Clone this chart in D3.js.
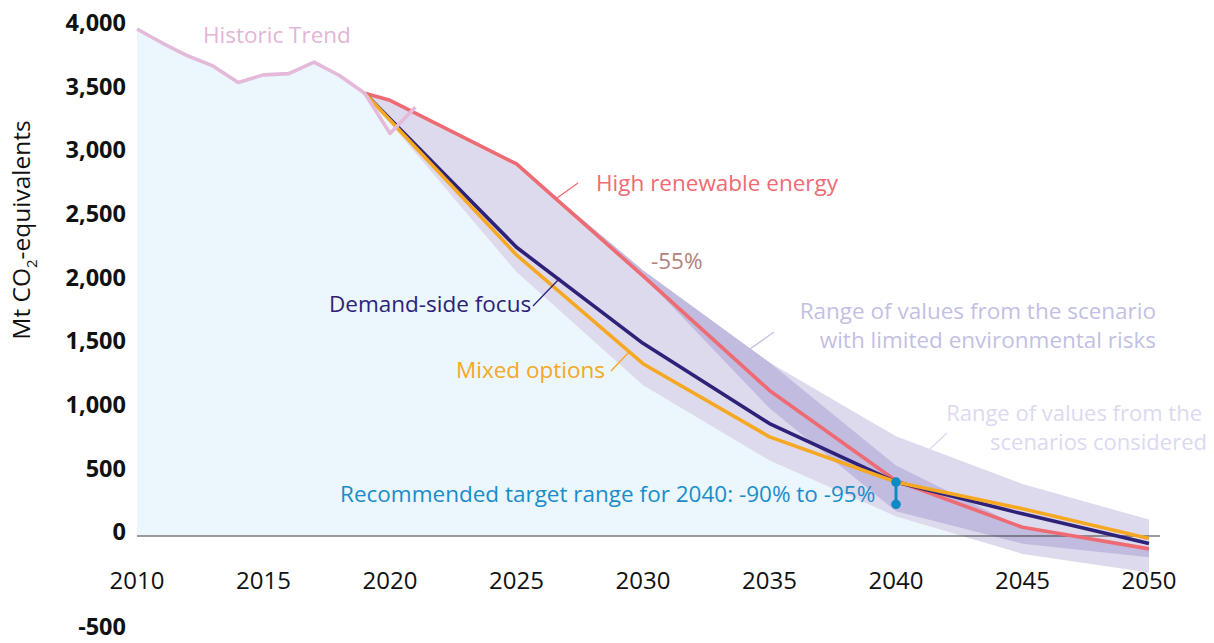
<!DOCTYPE html>
<html>
<head>
<meta charset="utf-8">
<script src="https://cdn.jsdelivr.net/npm/d3@7"></script>
<style>
  html, body { margin: 0; padding: 0; background: #ffffff; }
  svg { display: block; font-family: "Open Sans", "Noto Sans", sans-serif; }
</style>
</head>
<body>
<svg id="chart" width="1214" height="643"></svg>
<script>
// ---------- DATA ----------
const histYears  = [2010, 2011, 2012, 2013, 2014, 2015, 2016, 2017, 2018, 2019, 2020, 2021];
const histValues = [3980, 3870, 3770, 3690, 3560, 3620, 3630, 3720, 3615, 3475, 3160, 3365];

const redYears    = [2019, 2020, 2025, 2030, 2035, 2040, 2045, 2050];
const redValues   = [3475, 3420, 2920, 2040, 1140, 430, 65, -105];   // High renewable energy

const navyYears   = [2019, 2025, 2030, 2035, 2040, 2045, 2050];
const navyValues  = [3475, 2265, 1510, 880, 420, 170, -62];          // Demand-side focus

const orangeYears  = [2019, 2025, 2030, 2035, 2040, 2045, 2050];
const orangeValues = [3475, 2205, 1350, 775, 420, 210, -24];         // Mixed options

// Range of values from the scenarios considered (outer band)
const outerUpperYears  = [2019, 2020, 2025, 2030, 2035, 2040, 2045, 2050];
const outerUpperValues = [3475, 3420, 2920, 2060, 1360, 780, 405, 125];
const outerLowerYears  = [2019, 2025, 2030, 2035, 2040, 2045, 2050];
const outerLowerValues = [3475, 2070, 1180, 590, 150, -145, -290];

// Range of values from the scenario with limited environmental risks (inner band)
const innerYears       = [2025, 2030, 2035, 2040, 2045, 2050];
const innerUpperValues = [2920, 2085, 1360, 550, 60, -100];
const innerLowerValues = [2920, 2040, 1000, 190, -65, -170];

// Recommended target range for 2040
const targetYear   = 2040;
const targetValues = [420, 245];

const xTicks = [2010, 2015, 2020, 2025, 2030, 2035, 2040, 2045, 2050];
const yTicks = [4000, 3500, 3000, 2500, 2000, 1500, 1000, 500, 0, -500];

// ---------- SCALES ----------
const svg = d3.select("#chart");
const x = d3.scaleLinear().domain([2010, 2050]).range([137, 1149]);
const y = d3.scaleLinear().domain([0, 4000]).range([535.5, 26.5]);
// tick label placement (the -500 label sits below the year labels)
const yTickPos = d3.scaleLinear().domain([-500, 0, 4000]).range([627, 532, 23]);

const pts = (ys, vs) => ys.map((yr, i) => [yr, vs[i]]);
const line = d3.line().x(d => x(d[0])).y(d => y(d[1]));

const COLORS = {
  blueFill: "#ebf6fd",
  outer: "#dedaed",
  inner: "#c1bbdf",
  red: "#ee6b74",
  navy: "#2d2277",
  orange: "#f6a823",
  hist: "#e4b9d9",
  target: "#0c8ac6"
};

// ---------- BLUE AREA (below historic & lower bound) ----------
const clip = svg.append("defs").append("clipPath").attr("id", "aboveZero");
clip.append("rect").attr("x", 0).attr("y", 0).attr("width", 1214).attr("height", y(0));

const blueTop = pts(histYears.slice(0, 10), histValues.slice(0, 10))
  .concat(pts(outerLowerYears.slice(1), outerLowerValues.slice(1)));
svg.append("path")
  .datum(blueTop)
  .attr("clip-path", "url(#aboveZero)")
  .attr("fill", COLORS.blueFill)
  .attr("d", d3.area().x(d => x(d[0])).y0(y(0)).y1(d => y(d[1])));

// ---------- BANDS ----------
const outerPoly = pts(outerUpperYears, outerUpperValues)
  .concat(pts(outerLowerYears, outerLowerValues).reverse());
svg.append("path")
  .datum(outerPoly)
  .attr("fill", COLORS.outer)
  .attr("d", d => line(d) + "Z");

const innerPoly = pts(innerYears, innerUpperValues)
  .concat(pts(innerYears, innerLowerValues).reverse());
svg.append("path")
  .datum(innerPoly)
  .attr("fill", COLORS.inner)
  .attr("d", d => line(d) + "Z");

// ---------- ZERO LINE ----------
svg.append("line")
  .attr("x1", x(2010)).attr("x2", x(2050) + 11)
  .attr("y1", y(0) + 0.5).attr("y2", y(0) + 0.5)
  .attr("stroke", "#3a3a3a").attr("stroke-width", 1.2);

// ---------- LINES ----------
function drawLine(ys, vs, color, w) {
  svg.append("path")
    .datum(pts(ys, vs))
    .attr("fill", "none")
    .attr("stroke", color)
    .attr("stroke-width", w)
    .attr("stroke-linejoin", "round")
    .attr("d", line);
}
drawLine(redYears, redValues, COLORS.red, 3.6);
drawLine(navyYears, navyValues, COLORS.navy, 3.6);
drawLine(orangeYears, orangeValues, COLORS.orange, 3.6);
drawLine(histYears, histValues, COLORS.hist, 3.6);

// ---------- TARGET MARKER ----------
svg.append("line")
  .attr("x1", x(targetYear)).attr("x2", x(targetYear))
  .attr("y1", y(targetValues[0])).attr("y2", y(targetValues[1]))
  .attr("stroke", COLORS.target).attr("stroke-width", 3);
svg.selectAll("circle.target")
  .data(targetValues).enter().append("circle")
  .attr("class", "target")
  .attr("cx", x(targetYear)).attr("cy", d => y(d)).attr("r", 4.8)
  .attr("fill", COLORS.target);

// ---------- AXES ----------
svg.append("g").selectAll("text")
  .data(yTicks).enter().append("text")
  .attr("x", 126).attr("y", d => yTickPos(d))
  .attr("dy", "0.35em")
  .attr("text-anchor", "end")
  .attr("font-weight", "bold")
  .attr("font-size", 23.5)
  .attr("fill", "#111")
  .text(d => d3.format(",")(d).replace("\u2212", "-"));

svg.append("g").selectAll("text")
  .data(xTicks).enter().append("text")
  .attr("x", d => x(d)).attr("y", 581)
  .attr("dy", "0.35em")
  .attr("text-anchor", "middle")
  .attr("font-size", 24)
  .attr("fill", "#111")
  .text(d => d);

const yTitle = svg.append("text")
  .attr("transform", "translate(30,230) rotate(-90)")
  .attr("text-anchor", "middle")
  .attr("font-size", 24.5)
  .attr("fill", "#111");
yTitle.append("tspan").text("Mt CO");
yTitle.append("tspan").attr("font-size", 15).attr("dy", 7).text("2");
yTitle.append("tspan").attr("dy", -7).text("-equivalents");

// ---------- ANNOTATIONS ----------
function label(txt, lx, ly, color, anchor, size) {
  svg.append("text")
    .attr("x", lx).attr("y", ly).attr("dy", "0.35em")
    .attr("text-anchor", anchor || "start")
    .attr("font-size", size || 22.5)
    .attr("fill", color)
    .text(txt);
}
function leader(x1, y1, x2, y2, color) {
  svg.append("line")
    .attr("x1", x1).attr("y1", y1).attr("x2", x2).attr("y2", y2)
    .attr("stroke", color).attr("stroke-width", 1.3);
}

label("Historic Trend", 203, 35, "#e3b5d7");
label("High renewable energy", 596, 183, COLORS.red);
leader(557, 198, 578, 183, COLORS.red);
label("-55%", 651, 261, "#b3827c");
label("Demand-side focus", 329, 304, COLORS.navy);
leader(533, 306, 560, 278, COLORS.navy);
label("Mixed options", 456, 370, COLORS.orange);
leader(611, 371, 629, 352, COLORS.orange);
label("Range of values from the scenario", 1156, 311, "#c3bfe4", "end");
label("with limited environmental risks", 1156, 340, "#c3bfe4", "end");
leader(750, 349, 774, 332, "#c3bfe4");
label("Range of values from the", 1202, 413, "#dcd9f0", "end", 22);
label("scenarios considered", 1207, 442, "#dcd9f0", "end", 22);
leader(930, 449, 947, 433, "#dcd9f0");
label("Recommended target range for 2040: -90% to -95%", 340, 494, "#1a8dc9");
</script>
</body>
</html>
